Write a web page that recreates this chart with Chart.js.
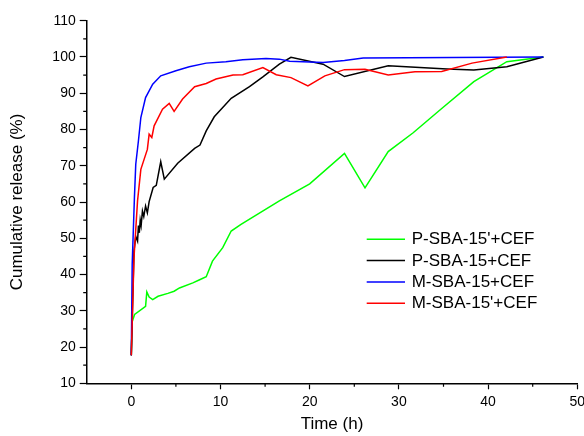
<!DOCTYPE html>
<html>
<head>
<meta charset="utf-8">
<script src="https://cdn.jsdelivr.net/npm/chart.js@4.4.0/dist/chart.umd.min.js"></script>
<style>
  html, body { margin: 0; padding: 0; background: #fff; }
  #wrap { width: 584px; height: 436px; }
</style>
</head>
<body>
<div id="wrap"><canvas id="chart"></canvas></div>
<script>
// Data (time in h, cumulative release in %)
const seriesNames = ["P-SBA-15'+CEF", "P-SBA-15+CEF", "M-SBA-15+CEF", "M-SBA-15'+CEF"];
const seriesColors = ["#00ff00", "#000000", "#0000ff", "#ff0000"];

const pPrimeTime = [0, 0.1, 0.37, 1.6, 1.74, 2.0, 2.4, 3.0, 4.1, 4.8, 5.4, 6.9, 7.6, 8.4, 9.1, 10.25, 11.2, 12.3, 16.6, 20, 23.9, 26.2, 28.8, 31.6, 34.8, 38.4, 42.1, 46.2];
const pPrimeRelease = [17.7, 27.0, 29.0, 31.2, 35.2, 33.8, 33.1, 34.0, 34.8, 35.4, 36.3, 37.7, 38.5, 39.4, 43.7, 47.4, 52.0, 53.8, 60.3, 65.0, 73.4, 63.9, 73.9, 79.1, 85.8, 93.2, 98.7, 100];

const pTime = [0, 0.3, 0.5, 0.7, 0.8, 0.9, 1.0, 1.1, 1.25, 1.4, 1.6, 1.8, 2.0, 2.45, 2.8, 3.3, 3.7, 5.2, 7.1, 7.7, 8.4, 9.3, 11.2, 13.25, 14.75, 16.6, 17.9, 21.5, 23.9, 28.8, 35.4, 38.4, 42.1, 46.2];
const pRelease = [17.7, 46.5, 50.5, 49.2, 53.5, 51.5, 55.0, 53.5, 57.5, 56.0, 58.9, 57.0, 60.1, 64.0, 64.6, 71.1, 66.3, 70.7, 74.8, 75.7, 79.6, 83.5, 88.6, 91.8, 94.5, 98.0, 99.9, 98.0, 94.6, 97.6, 96.7, 96.4, 97.3, 100];

const mTime = [0, 0.1, 0.35, 0.5, 0.8, 1.07, 1.6, 2.4, 3.3, 5.0, 6.5, 8.4, 10.6, 12.5, 15.1, 16.6, 17.75, 21.5, 23.9, 26.0, 46.2];
const mRelease = [17.7, 42.8, 61.2, 70.4, 76.9, 83.3, 88.8, 92.5, 94.8, 96.2, 97.3, 98.3, 98.7, 99.2, 99.6, 99.4, 98.8, 98.5, 99.0, 99.7, 100];

const mPrimeTime = [0, 0.3, 0.7, 1.07, 1.8, 2.0, 2.3, 2.56, 3.5, 4.25, 4.8, 5.75, 7.1, 8.4, 9.5, 11.4, 12.5, 14.75, 16.25, 17.9, 19.8, 21.7, 23.9, 26.2, 28.8, 31.8, 34.8, 38.2, 42.1];
const mPrimeRelease = [17.7, 44.6, 60.3, 69.0, 74.5, 78.7, 77.8, 81.0, 85.6, 87.2, 85.0, 88.4, 91.8, 92.7, 93.9, 95.0, 95.1, 97.1, 95.1, 94.3, 92.0, 94.8, 96.5, 96.6, 95.0, 95.9, 96.0, 98.3, 100];

const xTickValues = [0, 10, 20, 30, 40, 50];
const xMinorValues = [5, 15, 25, 35, 45];
const yTickValues = [10, 20, 30, 40, 50, 60, 70, 80, 90, 100, 110];
const yMinorValues = [15, 25, 35, 45, 55, 65, 75, 85, 95, 105];

const FONT = "'Liberation Sans', Arial, Helvetica, sans-serif";

function toPoints(xs, ys) {
    return xs.map((x, i) => ({ x: x, y: ys[i] }));
}

// Short outward ticks between the labelled ones
const minorTicks = {
    id: "minorTicks",
    afterDraw(chart) {
        const { ctx, chartArea, scales } = chart;
        ctx.save();
        ctx.strokeStyle = "#000";
        ctx.lineWidth = 1.2;
        ctx.beginPath();
        yMinorValues.forEach((v) => {
            const y = scales.y.getPixelForValue(v);
            ctx.moveTo(chartArea.left - 3.5, y);
            ctx.lineTo(chartArea.left, y);
        });
        xMinorValues.forEach((v) => {
            const x = scales.x.getPixelForValue(v);
            ctx.moveTo(x, chartArea.bottom);
            ctx.lineTo(x, chartArea.bottom + 3.5);
        });
        ctx.stroke();
        ctx.restore();
    },
};

// Legend box inside the plot, like the original
const insideLegend = {
    id: "insideLegend",
    afterDraw(chart) {
        const { ctx } = chart;
        ctx.save();
        ctx.font = "17px " + FONT;
        ctx.textBaseline = "middle";
        ctx.textAlign = "left";
        chart.data.datasets.forEach((ds, i) => {
            const y = 239.3 + i * 21.3;
            ctx.strokeStyle = ds.borderColor;
            ctx.lineWidth = 1.5;
            ctx.beginPath();
            ctx.moveTo(366.7, y);
            ctx.lineTo(405, y);
            ctx.stroke();
            ctx.fillStyle = "#000";
            ctx.fillText(ds.label, 411.7, y + 0.5);
        });
        ctx.restore();
    },
};

const seriesData = [
    toPoints(pPrimeTime, pPrimeRelease),
    toPoints(pTime, pRelease),
    toPoints(mTime, mRelease),
    toPoints(mPrimeTime, mPrimeRelease),
];
const drawOrder = [3, 2, 1, 0];

const ctx = document.getElementById("chart").getContext("2d");
const releaseChart = new Chart(ctx, {
    type: "line",
    data: {
        datasets: seriesNames.map((name, i) => ({
            label: name,
            data: seriesData[i],
            borderColor: seriesColors[i],
            backgroundColor: "transparent",
            borderWidth: 1.5,
            pointRadius: 0,
            tension: 0,
            order: drawOrder[i],
        })),
    },
    options: {
        responsive: true,
        maintainAspectRatio: false,
        animation: false,
        layout: {
            padding: { top: 20.7, right: 6.7, bottom: 0, left: 0 },
        },
        plugins: {
            legend: { display: false },
            tooltip: { enabled: false },
        },
        scales: {
            x: {
                type: "linear",
                min: -5,
                max: 50,
                afterBuildTicks: (scale) => {
                    scale.ticks = xTickValues.map((v) => ({ value: v }));
                },
                afterFit: (scale) => {
                    scale.height = 52.7;
                    scale.paddingLeft = 0;
                    scale.paddingRight = 0;
                },
                ticks: {
                    color: "#000",
                    padding: 4,
                    maxRotation: 0,
                    font: { family: FONT, size: 14 },
                },
                grid: {
                    drawOnChartArea: false,
                    drawTicks: true,
                    tickLength: 6,
                    tickColor: "#000",
                    tickWidth: 1.2,
                },
                border: { display: true, color: "#000", width: 1.5 },
                title: {
                    display: true,
                    text: "Time (h)",
                    color: "#000",
                    font: { family: FONT, size: 17 },
                    padding: { top: 0, bottom: 1 },
                },
            },
            y: {
                type: "linear",
                min: 10,
                max: 110,
                afterBuildTicks: (scale) => {
                    scale.ticks = yTickValues.map((v) => ({ value: v }));
                },
                afterFit: (scale) => {
                    scale.width = 86.7;
                    scale.paddingTop = 0;
                    scale.paddingBottom = 0;
                },
                ticks: {
                    color: "#000",
                    padding: 4,
                    font: { family: FONT, size: 14 },
                },
                grid: {
                    drawOnChartArea: false,
                    drawTicks: true,
                    tickLength: 7,
                    tickColor: "#000",
                    tickWidth: 1.2,
                },
                border: { display: true, color: "#000", width: 1.5 },
                title: {
                    display: true,
                    text: "Cumulative release (%)",
                    color: "#000",
                    font: { family: FONT, size: 17 },
                    padding: { top: 7.3, bottom: 0 },
                },
            },
        },
    },
    plugins: [minorTicks, insideLegend],
});
</script>
</body>
</html>
